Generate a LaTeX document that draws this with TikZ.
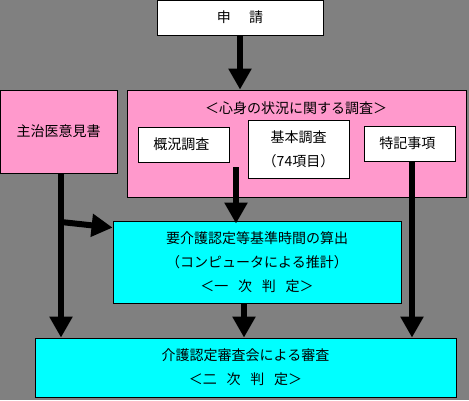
\documentclass[tikz,border=0pt]{standalone}
\usepackage{fontspec}
\setmainfont{Noto Sans CJK JP}
\usetikzlibrary{arrows.meta}
\definecolor{bggray}{HTML}{808080}
\definecolor{boxpink}{HTML}{FF99CC}
\definecolor{boxcyan}{HTML}{00FFFF}
\begin{document}
\begin{tikzpicture}[x=1pt,y=-1pt,
  box/.style={draw=black,line width=0.8pt,inner sep=0pt,align=center,font=\fontsize{14}{24}\selectfont},
  flow/.style={line width=6pt,-{Triangle[width=22pt,length=21pt]}}]
\useasboundingbox (0,0) rectangle (469,400);
\fill [bggray] (0,0) rectangle (469,400);
\node [box,fill=white,minimum width=166pt,minimum height=35pt] (shinsei) at (240,17.5) {申\hspace{1.3em}請};
\node [box,fill=boxpink,minimum width=117pt,minimum height=83pt] (ikensho) at (58.5,131.5) {主治医意見書};
\node [box,fill=boxpink,minimum width=339pt,minimum height=107pt] (chosa) at (296.5,143.5) {};
\node [font=\fontsize{14}{24}\selectfont,inner sep=0pt] (chosatitle) at (296,108) {＜心身の状況に関する調査＞};
\node [box,fill=white,minimum width=91pt,minimum height=35pt] (gaikyo) at (183.5,144.5) {概況調査\hspace{0.3em}};
\node [box,fill=white,minimum width=101pt,minimum height=58pt] (kihon) at (298.5,149) {基本調査\\（74項目）};
\node [box,fill=white,minimum width=91pt,minimum height=35pt] (tokki) at (409.5,143.5) {特記事項\hspace{0.3em}};
\node [box,fill=boxcyan,minimum width=288pt,minimum height=82pt] (ichiji) at (257,262) {要介護認定等基準時間の算出\\（コンピュータによる推計）\\＜一\hspace{0.7em}次\hspace{0.7em}判\hspace{0.7em}定＞};
\node [box,fill=boxcyan,minimum width=421pt,minimum height=59pt] (niji) at (245.5,367.5) {介護認定審査会による審査\\＜二\hspace{0.7em}次\hspace{0.7em}判\hspace{0.7em}定＞};
\coordinate (gaikyo-out) at (236,167);
\coordinate (bunki) at (61,222);
\draw [flow] (shinsei.south) -- (shinsei.south |- chosa.north);
\draw [flow] (gaikyo-out) -- ([yshift=-3pt]gaikyo-out |- ichiji.north);
\draw [flow] ([xshift=2.5pt]ikensho.south) -- ([xshift=2.5pt]ikensho.south |- niji.north);
\draw [flow] (bunki) -- ([yshift=-7pt]ichiji.north west);
\draw [flow] ([xshift=-13pt]ichiji.south) -- ([xshift=-13pt]ichiji.south |- niji.north);
\draw [flow] ([xshift=2.5pt]tokki.south) -- ([xshift=2.5pt]tokki.south |- niji.north);
\end{tikzpicture}
\end{document}
